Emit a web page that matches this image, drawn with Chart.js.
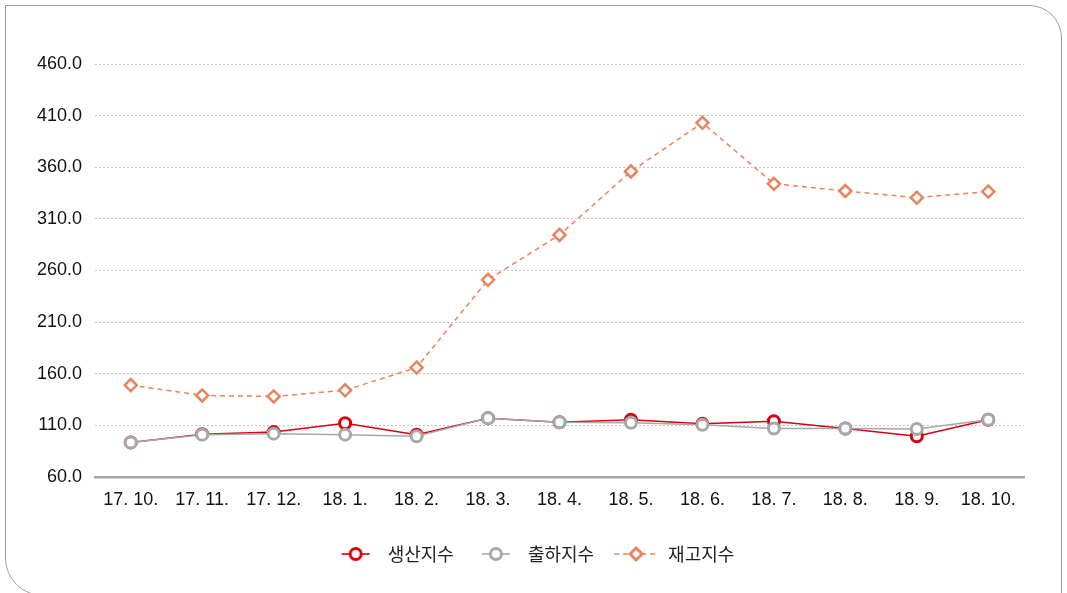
<!DOCTYPE html>
<html>
<head>
<meta charset="utf-8">
<script src="https://cdn.jsdelivr.net/npm/chart.js@4/dist/chart.umd.min.js"></script>
<style>
  html, body { margin: 0; padding: 0; background: #fff; }
  #wrap { position: relative; width: 1067px; height: 593px; overflow: hidden; }
  #frame { position: absolute; left: 5px; top: 5px; width: 1057px; height: 591px;
    border: 1.5px solid #9c9c9c; border-radius: 0 33px 0 38px; box-sizing: border-box; pointer-events: none; }
  canvas { position: absolute; left: 0; top: 0; }
</style>
</head>
<body>
<div id="wrap">
  <canvas id="c" width="1067" height="593"></canvas>
  <div id="frame"></div>
</div>
<script>
const categories = ['17. 10.', '17. 11.', '17. 12.', '18. 1.', '18. 2.', '18. 3.', '18. 4.', '18. 5.', '18. 6.', '18. 7.', '18. 8.', '18. 9.', '18. 10.'];
const seriesNames = ['생산지수', '출하지수', '재고지수'];
const production = [93.5, 101.5, 103.5, 112, 101, 117, 113, 115.5, 111.5, 114, 107, 99.5, 115.5];
const shipment = [93.5, 101, 102, 101, 99.5, 117, 113, 112.5, 110.5, 107, 107, 106.5, 115.5];
const inventory = [149, 139, 138, 144, 166, 251, 294.5, 356, 403, 344, 337, 330.5, 336.5];
const yTicks = [60, 110, 160, 210, 260, 310, 360, 410, 460];

const RED = '#D7000F', GRAY = '#A8A8A8', ORANGE = '#E8845C';
const TICK_FONT = "'Liberation Sans', Arial, sans-serif";
const LEG_W = 46;

function legendImg(kind, color) {
  const c = document.createElement('canvas');
  c.width = LEG_W; c.height = 18;
  const g = c.getContext('2d');
  const cx = LEG_W / 2;
  g.strokeStyle = color; g.lineWidth = 1.6;
  if (kind === 'diamond') {
    g.setLineDash([5, 4]);
    g.beginPath(); g.moveTo(cx - 22, 9); g.lineTo(cx + 22, 9); g.stroke();
    g.setLineDash([]);
    g.fillStyle = '#fff'; g.lineWidth = 3;
    g.beginPath(); g.moveTo(cx, 3); g.lineTo(cx + 6, 9); g.lineTo(cx, 15); g.lineTo(cx - 6, 9); g.closePath();
    g.fill(); g.stroke();
  } else {
    g.beginPath(); g.moveTo(cx - 14, 9); g.lineTo(cx + 14, 9); g.stroke();
    g.fillStyle = '#fff'; g.lineWidth = 3;
    g.beginPath(); g.arc(cx, 9, 5.5, 0, Math.PI * 2); g.fill(); g.stroke();
  }
  return c;
}
const legendImgs = [legendImg('circle', RED), legendImg('circle', GRAY), legendImg('diamond', ORANGE)];

new Chart(document.getElementById('c'), {
  type: 'line',
  data: {
    labels: categories,
    datasets: [
      { label: seriesNames[0], data: production, borderColor: RED, borderWidth: 1.5,
        pointStyle: 'circle', pointRadius: 5.5, pointBorderWidth: 3, pointBackgroundColor: '#fff', pointBorderColor: RED,
        tension: 0, order: 2 },
      { label: seriesNames[1], data: shipment, borderColor: GRAY, borderWidth: 1.5,
        pointStyle: 'circle', pointRadius: 5.5, pointBorderWidth: 3, pointBackgroundColor: '#fff', pointBorderColor: GRAY,
        tension: 0, order: 1 },
      { label: seriesNames[2], data: inventory, borderColor: ORANGE, borderWidth: 1.5, borderDash: [5, 4],
        pointStyle: 'rectRot', pointRadius: 6, pointBorderWidth: 2.5, pointBackgroundColor: '#fff', pointBorderColor: ORANGE,
        tension: 0, order: 0 }
    ]
  },
  options: {
    responsive: false,
    animation: false,
    layout: { padding: { left: 0, right: 0, top: 64, bottom: 20 } },
    plugins: {
      tooltip: { enabled: false },
      legend: {
        position: 'bottom',
        labels: {
          usePointStyle: true,
          pointStyleWidth: LEG_W,
          padding: 19,
          color: '#222',
          font: { family: "'Noto Sans CJK KR', sans-serif", size: 18 },
          generateLabels: (chart) => chart.data.datasets.map((ds, i) => ({
            text: ds.label, pointStyle: legendImgs[i], datasetIndex: i, hidden: false,
            lineWidth: 0, fillStyle: 'rgba(0,0,0,0)', strokeStyle: 'rgba(0,0,0,0)', fontColor: '#222'
          }))
        }
      }
    },
    scales: {
      x: {
        offset: true,
        grid: { display: false, drawTicks: false },
        border: { display: true, color: '#A6A6A6', width: 2.5 },
        ticks: { color: '#111', padding: 12, maxRotation: 0, autoSkip: false, font: { family: TICK_FONT, size: 18 } },
        afterFit: (s) => { s.height = 49; }
      },
      y: {
        min: yTicks[0], max: yTicks[yTicks.length - 1],
        afterBuildTicks: (s) => { s.ticks = yTicks.map(v => ({ value: v })); },
        grid: {
          drawTicks: false,
          color: (ctx) => ctx.tick && ctx.tick.value === yTicks[0] ? 'rgba(0,0,0,0)' : '#C4C4C4',
          lineWidth: 1
        },
        border: { display: false, dash: [2, 2] },
        ticks: { color: '#111', padding: 13, font: { family: TICK_FONT, size: 18 },
          callback: (v) => Number(v).toFixed(1) },
        afterFit: (s) => { s.width = 95; }
      },
      yRightSpace: {
        position: 'right',
        display: true,
        min: 0, max: 1,
        grid: { display: false, drawTicks: false },
        border: { display: false },
        ticks: { display: false },
        afterFit: (s) => { s.width = 43; }
      }
    }
  }
});
</script>
</body>
</html>
